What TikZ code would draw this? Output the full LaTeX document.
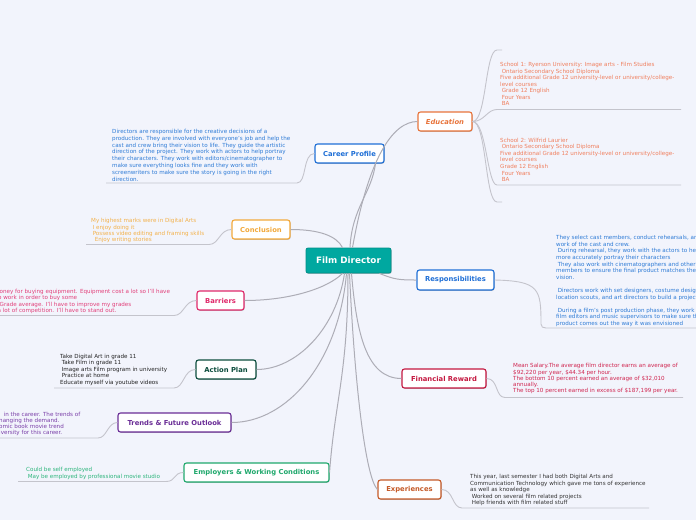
\documentclass[tikz,border=0pt]{standalone}
\usepackage{fontspec}
\setmainfont{DejaVu Sans}
\usetikzlibrary{shadows}
\definecolor{bg}{HTML}{F2F4FC}
\definecolor{cTeal}{HTML}{00A8A0}
\definecolor{cEdu}{HTML}{E8743B}
\definecolor{tEdu}{HTML}{F07F5E}
\definecolor{cBlue}{HTML}{1F6FD6}
\definecolor{tBlue}{HTML}{2E7BD6}
\definecolor{cConcl}{HTML}{F2A93B}
\definecolor{tConcl}{HTML}{F3B14A}
\definecolor{cBarr}{HTML}{E0296A}
\definecolor{tBarr}{HTML}{E2407A}
\definecolor{cAction}{HTML}{0C4D3D}
\definecolor{tDark}{HTML}{222222}
\definecolor{cTrend}{HTML}{6A2D96}
\definecolor{tTrend}{HTML}{7A3FA8}
\definecolor{cEmp}{HTML}{1FA86C}
\definecolor{tEmp}{HTML}{2DB57C}
\definecolor{cExp}{HTML}{C55A28}
\definecolor{tExp}{HTML}{333333}
\definecolor{cFin}{HTML}{C4173F}
\definecolor{tFin}{HTML}{D02650}
\definecolor{lineMain}{HTML}{ADADB6}
\definecolor{lineSub}{HTML}{C4C4CC}
\tikzset{
  conn/.style={draw=lineMain, line width=1pt},
  sub/.style={draw=lineSub, line width=0.9pt},
  topic/.style={draw=#1, text=#1, fill=white, rounded corners=2.5pt, line width=1.1pt,
    minimum height=19pt, inner sep=0pt, font=\fontsize{6.8}{7.5}\selectfont\bfseries,
    drop shadow={shadow xshift=0.6pt, shadow yshift=-0.8pt, opacity=0.25, fill=black}},
  desc/.style={text=#1, anchor=north west, inner sep=0pt, align=left},
  dfont/.style={font=\fontsize{5.6}{#1}\selectfont},
}
\begin{document}
\begin{tikzpicture}[x=1pt,y=-1pt]
\fill[bg] (0,0) rectangle (696,520);
\useasboundingbox (0,0) rectangle (696,520);
\clip (0,0) rectangle (696,520);

% ---------- coordinates for underlines ----------
\coordinate (cpR) at (297,183);   \coordinate (cpL) at (106,183);
\coordinate (coR) at (209,244.5); \coordinate (coL) at (86,244.5);
\coordinate (baR) at (174,315.5); \coordinate (baL) at (-5,315.5);
\coordinate (acR) at (174,388);   \coordinate (acL) at (54,388);
\coordinate (trR) at (98,438);    \coordinate (trL) at (-5,438);
\coordinate (emR) at (166,481.5); \coordinate (emL) at (18,481.5);
\coordinate (exL) at (462,508);   \coordinate (exR) at (649,508);
\coordinate (rsA) at (541,324);   \coordinate (rsB) at (546,328); \coordinate (rsC) at (700,328);
\coordinate (fiL) at (505,397.5); \coordinate (fiR) at (683,397.5);
\coordinate (e1L) at (497,109.5); \coordinate (e1R) at (681,109.5);
\coordinate (e2L) at (497,185);   \coordinate (e2R) at (681,185);
\coordinate (e0L) at (497,50);    \coordinate (e0R) at (502,50);
\coordinate (e3L) at (497,202);   \coordinate (e3R) at (502,202);

% ---------- nodes ----------
\node[draw=cTeal!85!black, fill=cTeal, text=white, rounded corners=2pt, line width=0.8pt,
  minimum width=85pt, minimum height=25pt, inner sep=0pt,
  font=\fontsize{8.8}{10}\selectfont\bfseries,
  drop shadow={shadow xshift=0.6pt, shadow yshift=-0.8pt, opacity=0.25, fill=black}]
  (root) at (348.5,260.5) {Film Director};

\node[topic=cEdu, minimum width=54pt, font=\fontsize{6.8}{7.5}\selectfont\bfseries\itshape] (edu) at (445,121.5) {Education};
\node[topic=cBlue, minimum width=69pt] (career) at (349.5,153.5) {Career Profile};
\node[topic=cConcl, minimum width=58pt] (concl) at (261,229.5) {Conclusion};
\node[topic=cBarr, minimum width=47pt] (barr) at (220.5,300.5) {Barriers};
\node[topic=cAction, minimum width=60pt] (action) at (226,369.5) {Action Plan};
\node[topic=cTrend, minimum width=113pt] (trends) at (174.5,422.5) {Trends \& Future Outlook};
\node[topic=cEmp, minimum width=145pt] (emp) at (256.5,472.5) {Employers \& Working Conditions};
\node[topic=cExp, minimum width=63pt] (exp) at (409.5,489.5) {Experiences};
\node[topic=cBlue, minimum width=77pt, minimum height=20pt] (resp) at (455.5,280) {Responsibilities};
\node[topic=cFin, minimum width=84pt] (fin) at (444,378.5) {Financial Reward};

% ---------- main connectors ----------
\draw[conn] ([xshift=4pt]root.north) .. controls (368,160) and (392,121.5) .. (edu.west);
\draw[conn] ([xshift=1.5pt]root.north) .. controls +(2,-40) and +(-4,30) .. ([xshift=26pt]career.south);
\draw[conn] ([xshift=-6pt]root.north) .. controls +(-6,-12) and +(28,0) .. (concl.east);
\draw[conn] ([xshift=-6pt]root.south) .. controls +(-15,15) and +(45,0) .. (barr.east);
\draw[conn] ([xshift=-4pt]root.south) .. controls +(-8,55) and +(40,0) .. (action.east);
\draw[conn] ([xshift=-2pt]root.south) .. controls +(-8,90) and +(55,0) .. (trends.east);
\draw[conn] ([xshift=-0.5pt]root.south) .. controls +(0,100) and +(5,-70) .. (emp.east);
\draw[conn] ([xshift=1pt]root.south) .. controls +(5,110) and +(-12,-12) .. (exp.west);
\draw[conn] ([xshift=-12pt]root.south east) .. controls +(15,6) and +(-18,0) .. (resp.west);
\draw[conn] ([xshift=3pt]root.south) .. controls +(5,60) and +(-35,0) .. (fin.west);

% ---------- sub connectors / underlines ----------
\draw[sub] (career.west) .. controls +(-12,0) and +(10,0) .. (cpR) -- (cpL);
\draw[sub] (concl.west) .. controls +(-12,0) and +(10,0) .. (coR) -- (coL);
\draw[sub] (barr.west) .. controls +(-12,0) and +(10,0) .. (baR) -- (baL);
\draw[sub] (action.west) .. controls +(-12,0) and +(10,0) .. (acR) -- (acL);
\draw[sub] (trends.west) .. controls +(-10,0) and +(9,0) .. (trR) -- (trL);
\draw[sub] (emp.west) .. controls +(-10,0) and +(10,0) .. (emR) -- (emL);
\draw[sub] (exp.east) .. controls +(12,0) and +(-10,0) .. (exL) -- (exR);
\draw[sub] (resp.east) .. controls +(45,1) and +(0,-35) .. (rsA) .. controls +(0,3) and +(-3,0) .. (rsB) -- (rsC);
\draw[sub] (fin.east) .. controls +(12,0) and +(-10,0) .. (fiL) -- (fiR);
\draw[sub] (edu.east) .. controls +(12,0) and +(-10,0) .. (e1L) -- (e1R);
\draw[sub] (edu.east) .. controls +(14,0) and +(-10,0) .. (e2L) -- (e2R);
\draw[sub] (edu.east) .. controls +(14,0) and +(-12,0) .. (e0L) -- (e0R);
\draw[sub] (edu.east) .. controls +(14,0) and +(-12,0) .. (e3L) -- (e3R);

% ---------- descriptive texts ----------
\node[desc=tEdu, dfont=6.45] (t1) at (500,62.3) {School 1: Ryerson University: Image arts - Film Studies\\
\hspace*{1.6pt}Ontario Secondary School Diploma\\
Five additional Grade 12 university-level or university/college-\\
level courses\\
\hspace*{1.6pt}Grade 12 English\\
\hspace*{1.6pt}Four Years\\
\hspace*{1.6pt}BA};

\node[desc=tEdu, dfont=6.6] (t2) at (500,137.6) {School 2: Wilfrid Laurier\\
\hspace*{1.6pt}Ontario Secondary School Diploma\\
Five additional Grade 12 university-level or university/college-\\
level courses\\
Grade 12 English\\
\hspace*{1.6pt}Four Years\\
\hspace*{1.6pt}BA};

\node[desc=tBlue, dfont=6.8] (t3) at (112,129) {Directors are responsible for the creative decisions of a\\
production. They are involved with everyone's job and help the\\
cast and crew bring their vision to life. They guide the artistic\\
direction of the project. They work with actors to help portray\\
their characters. They work with editors/cinematographer to\\
make sure everything looks fine and they work with\\
screenwriters to make sure the story is going in the right\\
direction.};

\node[desc=tConcl, dfont=6.4] (t4) at (91,218.3) {My highest marks were in Digital Arts\\
\hspace*{1.6pt}I enjoy doing it\\
\hspace*{1.6pt}Possess video editing and framing skills\\
\hspace*{3.6pt}Enjoy writing stories};

\node[desc=tBarr, dfont=6.4] (t5) at (-0.5,289) {oney for buying equipment. Equipment cost a lot so I'll have\\
\hspace*{-1.5pt}o work in order to buy some\\
Grade average. I'll have to improve my grades\\
\hspace*{-2pt}a lot of competition. I'll have to stand out.};

\node[desc=tDark, dfont=6.5] (t6) at (60,354) {Take Digital Art in grade 11\\
\hspace*{1.6pt}Take Film in grade 11\\
\hspace*{1.6pt}Image arts Film program in university\\
\hspace*{1.6pt}Practice at home\\
Educate myself via youtube videos};

\node[desc=tTrend, dfont=6.3] (t7) at (-1,411.6) {\hspace*{4.5pt}in the career. The trends of\\
hanging the demand.\\
omic book movie trend\\
iversity for this career.};

\node[desc=tEmp, dfont=6.6] (t8) at (26,467.3) {Could be self employed\\
\hspace*{1.6pt}May be employed by professional movie studio};

\node[desc=tExp, dfont=6.5] (t9) at (470,474.3) {This year, last semester I had both Digital Arts and\\
Communication Technology which gave me tons of experience\\
as well as knowledge\\
\hspace*{1.6pt}Worked on several film related projects\\
\hspace*{1.6pt}Help friends with film related stuff};

\node[desc=tBlue, dfont=6.6] (t10) at (556,235.3) {They select cast members, conduct rehearsals, and direct the\\
work of the cast and crew.\\
\hspace*{1.6pt}During rehearsal, they work with the actors to help them\\
more accurately portray their characters\\
\hspace*{1.6pt}They also work with cinematographers and other crew\\
members to ensure the final product matches the overall\\
vision.\\
\mbox{}\\
\hspace*{1.6pt}Directors work with set designers, costume designers,\\
location scouts, and art directors to build a project's sets.\\
\mbox{}\\
\hspace*{1.6pt}During a film's post production phase, they work closely with\\
film editors and music supervisors to make sure the final\\
product comes out the way it was envisioned};

\node[desc=tFin, dfont=6.3] (t11) at (513,363.3) {Mean Salary.The average film director earns an average of\\
\$92,220 per year, \$44.34 per hour.\\
The bottom 10 percent earned an average of \$32,010\\
annually.\\
The top 10 percent earned in excess of \$187,199 per year.};
\end{tikzpicture}
\end{document}
